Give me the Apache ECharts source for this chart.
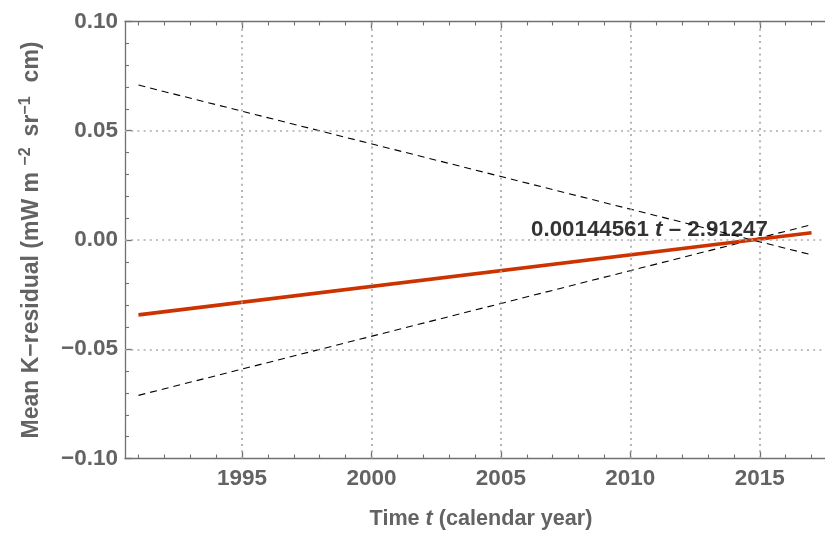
<!DOCTYPE html>
<html>
<head>
<meta charset="utf-8">
<script src="https://cdn.jsdelivr.net/npm/echarts@6/dist/echarts.min.js"></script>
<style>
  html, body { margin: 0; padding: 0; background: #ffffff; }
  #chart { width: 825px; height: 536px; }
</style>
</head>
<body>
<div id="chart"></div>
<script>
// Linear fit of the mean K-residual against calendar year
const fitYears = [1991, 2017];
const fitSlope = 0.00144561;
const fitIntercept = -2.91247;

// Dashed envelope lines
const upperYears = [1991, 2017];
const upperValues = [0.0709, -0.0068];
const lowerYears = [1991, 2017];
const lowerValues = [-0.0711, 0.0070];

// Axis ticks
const majorYears = [1995, 2000, 2005, 2010, 2015];
const minorYears = [1991, 1992, 1993, 1994, 1996, 1997, 1998, 1999, 2001, 2002, 2003, 2004,
                    2006, 2007, 2008, 2009, 2011, 2012, 2013, 2014, 2016, 2017];
const yGridValues = [-0.05, 0.00, 0.05];

// Fit label position (year, value)
const fitLabelAt = [2010.74, 0.0046];

const X_MIN = 1990.48, X_MAX = 2017.52;
const Y_MIN = -0.10, Y_MAX = 0.10;

const FONT = '"Liberation Sans", Arial, sans-serif';
const GREY = '#636363';
const FRAME = '#707070';
const DOTS = { color: '#ababab', width: 1.7, type: [2, 4.2] };

const fitData = fitYears.map(t => [t, fitSlope * t + fitIntercept]);
const upperData = upperYears.map((t, i) => [t, upperValues[i]]);
const lowerData = lowerYears.map((t, i) => [t, lowerValues[i]]);

function fmtY(v) {
  const s = Math.abs(v).toFixed(2);
  return (v < -1e-9 ? '\u2212' : '') + s;
}

const baseX = {
  type: 'value', min: X_MIN, max: X_MAX,
  splitLine: { show: false }
};

const chart = echarts.init(document.getElementById('chart'), null, { renderer: 'canvas' });

chart.setOption({
  animation: false,
  backgroundColor: '#ffffff',
  grid: { left: 125, top: 21.5, width: 707, height: 437, containLabel: false },
  xAxis: [
    Object.assign({}, baseX, {
      position: 'bottom',
      axisLine: { show: true, onZero: false, lineStyle: { color: FRAME, width: 1.3 } },
      axisTick: { show: true, inside: true, length: 7, customValues: majorYears,
                  lineStyle: { color: FRAME, width: 1.3 } },
      axisLabel: { show: true, customValues: majorYears, margin: 9,
                   color: GREY, fontFamily: FONT, fontWeight: 'bold', fontSize: 22.5,
                   formatter: v => String(Math.round(v)) },
      name: '{a|Time }{i|t}{a| (calendar year)}',
      nameLocation: 'middle',
      nameGap: 50,
      nameTextStyle: {
        padding: [0, 0, 0, 12],
        rich: {
          a: { color: GREY, fontFamily: FONT, fontWeight: 'bold', fontSize: 21.6 },
          i: { color: GREY, fontFamily: FONT, fontWeight: 'bold', fontStyle: 'italic', fontSize: 21.6 }
        }
      }
    }),
    Object.assign({}, baseX, {
      position: 'bottom',
      axisLine: { show: false, onZero: false },
      axisTick: { show: true, inside: true, length: 4, customValues: minorYears,
                  lineStyle: { color: FRAME, width: 1.1 } },
      axisLabel: { show: false }
    }),
    Object.assign({}, baseX, {
      position: 'top',
      axisLine: { show: true, onZero: false, lineStyle: { color: FRAME, width: 1.3 } },
      axisTick: { show: true, inside: true, length: 7, customValues: majorYears,
                  lineStyle: { color: FRAME, width: 1.3 } },
      axisLabel: { show: false }
    }),
    Object.assign({}, baseX, {
      position: 'top',
      axisLine: { show: false, onZero: false },
      axisTick: { show: true, inside: true, length: 4, customValues: minorYears,
                  lineStyle: { color: FRAME, width: 1.1 } },
      axisLabel: { show: false }
    })
  ],
  yAxis: [{
    type: 'value', min: Y_MIN, max: Y_MAX, interval: 0.05,
    position: 'left',
    axisLine: { show: true, onZero: false, lineStyle: { color: FRAME, width: 1.3 } },
    axisTick: { show: true, inside: true, length: 7, lineStyle: { color: FRAME, width: 1.3 } },
    minorTick: { show: true, splitNumber: 5, length: 4, lineStyle: { color: FRAME, width: 1.1 } },
    axisLabel: { show: true, margin: 7, color: GREY, fontFamily: FONT, fontWeight: 'bold',
                 fontSize: 22.5, formatter: fmtY },
    splitLine: { show: false },
    name: '{a|Mean K\u2212residual (mW m }{s|\u22122}{g|}{a|sr}{s|\u22121}{h|}{a|cm)}',
    nameLocation: 'middle',
    nameRotate: 90,
    nameGap: 79,
    nameTextStyle: {
      rich: {
        a: { color: GREY, fontFamily: FONT, fontWeight: 'bold', fontSize: 23, lineHeight: 28 },
        s: { color: GREY, fontFamily: FONT, fontWeight: 'bold', fontSize: 16, lineHeight: 28,
             verticalAlign: 'top', padding: [0, 0, 10, 0] },
        g: { width: 11, lineHeight: 28 },
        h: { width: 14, lineHeight: 28 }
      }
    }
  }],
  series: [
    {
      // dotted grid
      type: 'line', data: [], xAxisIndex: 0, yAxisIndex: 0, z: 1, silent: true,
      markLine: {
        silent: true, symbol: ['none', 'none'], label: { show: false },
        lineStyle: DOTS, emphasis: { disabled: true },
        data: majorYears.map(v => ({ xAxis: v })).concat(yGridValues.map(v => ({ yAxis: v })))
      }
    },
    {
      name: 'upper', type: 'line', data: upperData, xAxisIndex: 0, yAxisIndex: 0,
      showSymbol: false, symbol: 'none', z: 2,
      lineStyle: { color: '#000000', width: 1.1, type: [7, 5] }
    },
    {
      name: 'lower', type: 'line', data: lowerData, xAxisIndex: 0, yAxisIndex: 0,
      showSymbol: false, symbol: 'none', z: 2,
      lineStyle: { color: '#000000', width: 1.1, type: [7, 5] }
    },
    {
      name: 'fit', type: 'line', data: fitData, xAxisIndex: 0, yAxisIndex: 0,
      showSymbol: false, symbol: 'none', z: 3,
      lineStyle: { color: '#cc3300', width: 3.6 }
    },
    {
      name: 'fitLabel', type: 'scatter', data: [fitLabelAt], xAxisIndex: 0, yAxisIndex: 0,
      symbolSize: 0, z: 5, silent: true,
      label: {
        show: true, position: 'inside',
        formatter: '{n|' + fitSlope.toFixed(8) + ' }{i|t}{n| \u2013 ' + Math.abs(fitIntercept).toFixed(5) + '}',
        rich: {
          n: { color: '#000000', fontFamily: FONT, fontWeight: 'bold', fontSize: 22.3 },
          i: { color: '#000000', fontFamily: FONT, fontWeight: 'bold', fontStyle: 'italic', fontSize: 22.3 }
        }
      }
    }
  ]
});
</script>
</body>
</html>
